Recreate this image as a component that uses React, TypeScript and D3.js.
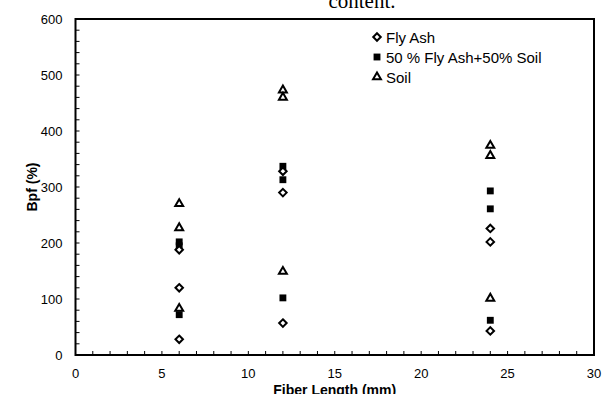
import { useRef, useEffect } from 'react';
import * as d3 from 'd3';

const WIDTH = 614;
const HEIGHT = 394;
const MARGIN = { top: 19, right: 20, bottom: 39, left: 75.5 };

const fiberLength = [6, 12, 24];
const flyAsh = [[188, 120, 28], [328, 290, 57], [226, 202, 43]];
const mixFlySoil = [[202, 195, 72], [337, 313, 102], [293, 261, 62]];
const soil = [[270, 227, 83], [473, 460, 149], [374, 356, 101]];
const xTicks = [0, 5, 10, 15, 20, 25, 30];
const yTicks = [0, 100, 200, 300, 400, 500, 600];
const legendLabels = ['Fly Ash', '50 % Fly Ash+50% Soil', 'Soil'];

type Pt = { x: number; y: number };

function toPoints(vals: number[][]): Pt[] {
  const out: Pt[] = [];
  vals.forEach((col, i) => col.forEach((v) => out.push({ x: fiberLength[i], y: v })));
  return out;
}

export default function App() {
  const svgRef = useRef<SVGSVGElement>(null);

  useEffect(() => {
    if (!svgRef.current) return;
    const svg = d3.select(svgRef.current);
    svg.selectAll('*').remove();

    const iW = WIDTH - MARGIN.left - MARGIN.right;
    const iH = HEIGHT - MARGIN.top - MARGIN.bottom;
    const g = svg.append('g').attr('transform', `translate(${MARGIN.left},${MARGIN.top})`);

    const x = d3.scaleLinear().domain([0, 30]).range([0, iW]);
    const y = d3.scaleLinear().domain([0, 600]).range([iH, 0]);
    const font = 'Arial, "Liberation Sans", sans-serif';

    // clipped title from the page above
    svg.append('text')
      .attr('x', 362).attr('y', 8)
      .attr('text-anchor', 'middle')
      .attr('font-family', '"Times New Roman", "Liberation Serif", serif')
      .attr('font-size', '21px')
      .text('content.');

    // minor ticks (inward)
    g.append('g')
      .selectAll('line')
      .data(d3.range(1, 30))
      .join('line')
      .attr('x1', (d) => x(d)).attr('x2', (d) => x(d))
      .attr('y1', iH).attr('y2', iH - 4)
      .attr('stroke', '#000').attr('stroke-width', 1);
    g.append('g')
      .selectAll('line')
      .data(d3.range(20, 600, 20))
      .join('line')
      .attr('x1', 0).attr('x2', 4)
      .attr('y1', (d) => y(d)).attr('y2', (d) => y(d))
      .attr('stroke', '#000').attr('stroke-width', 1);

    // frame
    g.append('rect')
      .attr('x', 0).attr('y', 0).attr('width', iW).attr('height', iH)
      .attr('fill', 'none').attr('stroke', '#000').attr('stroke-width', 2);

    // tick labels
    g.append('g')
      .selectAll('text')
      .data(xTicks)
      .join('text')
      .attr('x', (d) => x(d)).attr('y', iH + 23)
      .attr('text-anchor', 'middle')
      .attr('font-family', font).attr('font-size', '13px')
      .text((d) => d);
    g.append('g')
      .selectAll('text')
      .data(yTicks)
      .join('text')
      .attr('x', -13).attr('y', (d) => y(d) + 5)
      .attr('text-anchor', 'end')
      .attr('font-family', font).attr('font-size', '13px')
      .text((d) => d);

    // axis titles
    g.append('text')
      .attr('x', iW / 2).attr('y', iH + 40)
      .attr('text-anchor', 'middle')
      .attr('font-family', font).attr('font-size', '14px').attr('font-weight', 'bold')
      .text('Fiber Length (mm)');
    g.append('text')
      .attr('transform', 'rotate(-90)')
      .attr('x', -y(300)).attr('y', -39)
      .attr('text-anchor', 'middle')
      .attr('font-family', font).attr('font-size', '14px').attr('font-weight', 'bold')
      .text('Bpf (%)');

    const diamond = d3.symbol().type(d3.symbolDiamond2).size(36)();
    const square = d3.symbol().type(d3.symbolSquare2).size(60)();
    const triangle = d3.symbol().type(d3.symbolTriangle2).size(45)();

    const drawSeries = (pts: Pt[], path: string | null, filled: boolean) => {
      g.append('g')
        .selectAll('path')
        .data(pts)
        .join('path')
        .attr('transform', (d) => `translate(${x(d.x)},${y(d.y)})`)
        .attr('d', path)
        .attr('fill', filled ? '#000' : '#fff')
        .attr('stroke', '#000')
        .attr('stroke-width', filled ? 0 : 2);
    };
    drawSeries(toPoints(soil), triangle, false);
    drawSeries(toPoints(mixFlySoil), square, true);
    drawSeries(toPoints(flyAsh), diamond, false);

    // legend
    const shapes = [diamond, square, triangle];
    const leg = svg.append('g').attr('transform', 'translate(377,37)');
    legendLabels.forEach((label, i) => {
      leg.append('path')
        .attr('transform', `translate(0,${i * 20})`)
        .attr('d', shapes[i])
        .attr('fill', i === 1 ? '#000' : '#fff')
        .attr('stroke', '#000')
        .attr('stroke-width', i === 1 ? 0 : 2);
      leg.append('text')
        .attr('x', 9).attr('y', i * 20 + 5.5)
        .attr('font-family', font).attr('font-size', '15px')
        .text(label);
    });
  }, []);

  return (
    <svg
      ref={svgRef}
      width={WIDTH}
      height={HEIGHT}
      style={{ position: 'absolute', left: 0, top: 0, background: '#fff' }}
    />
  );
}
